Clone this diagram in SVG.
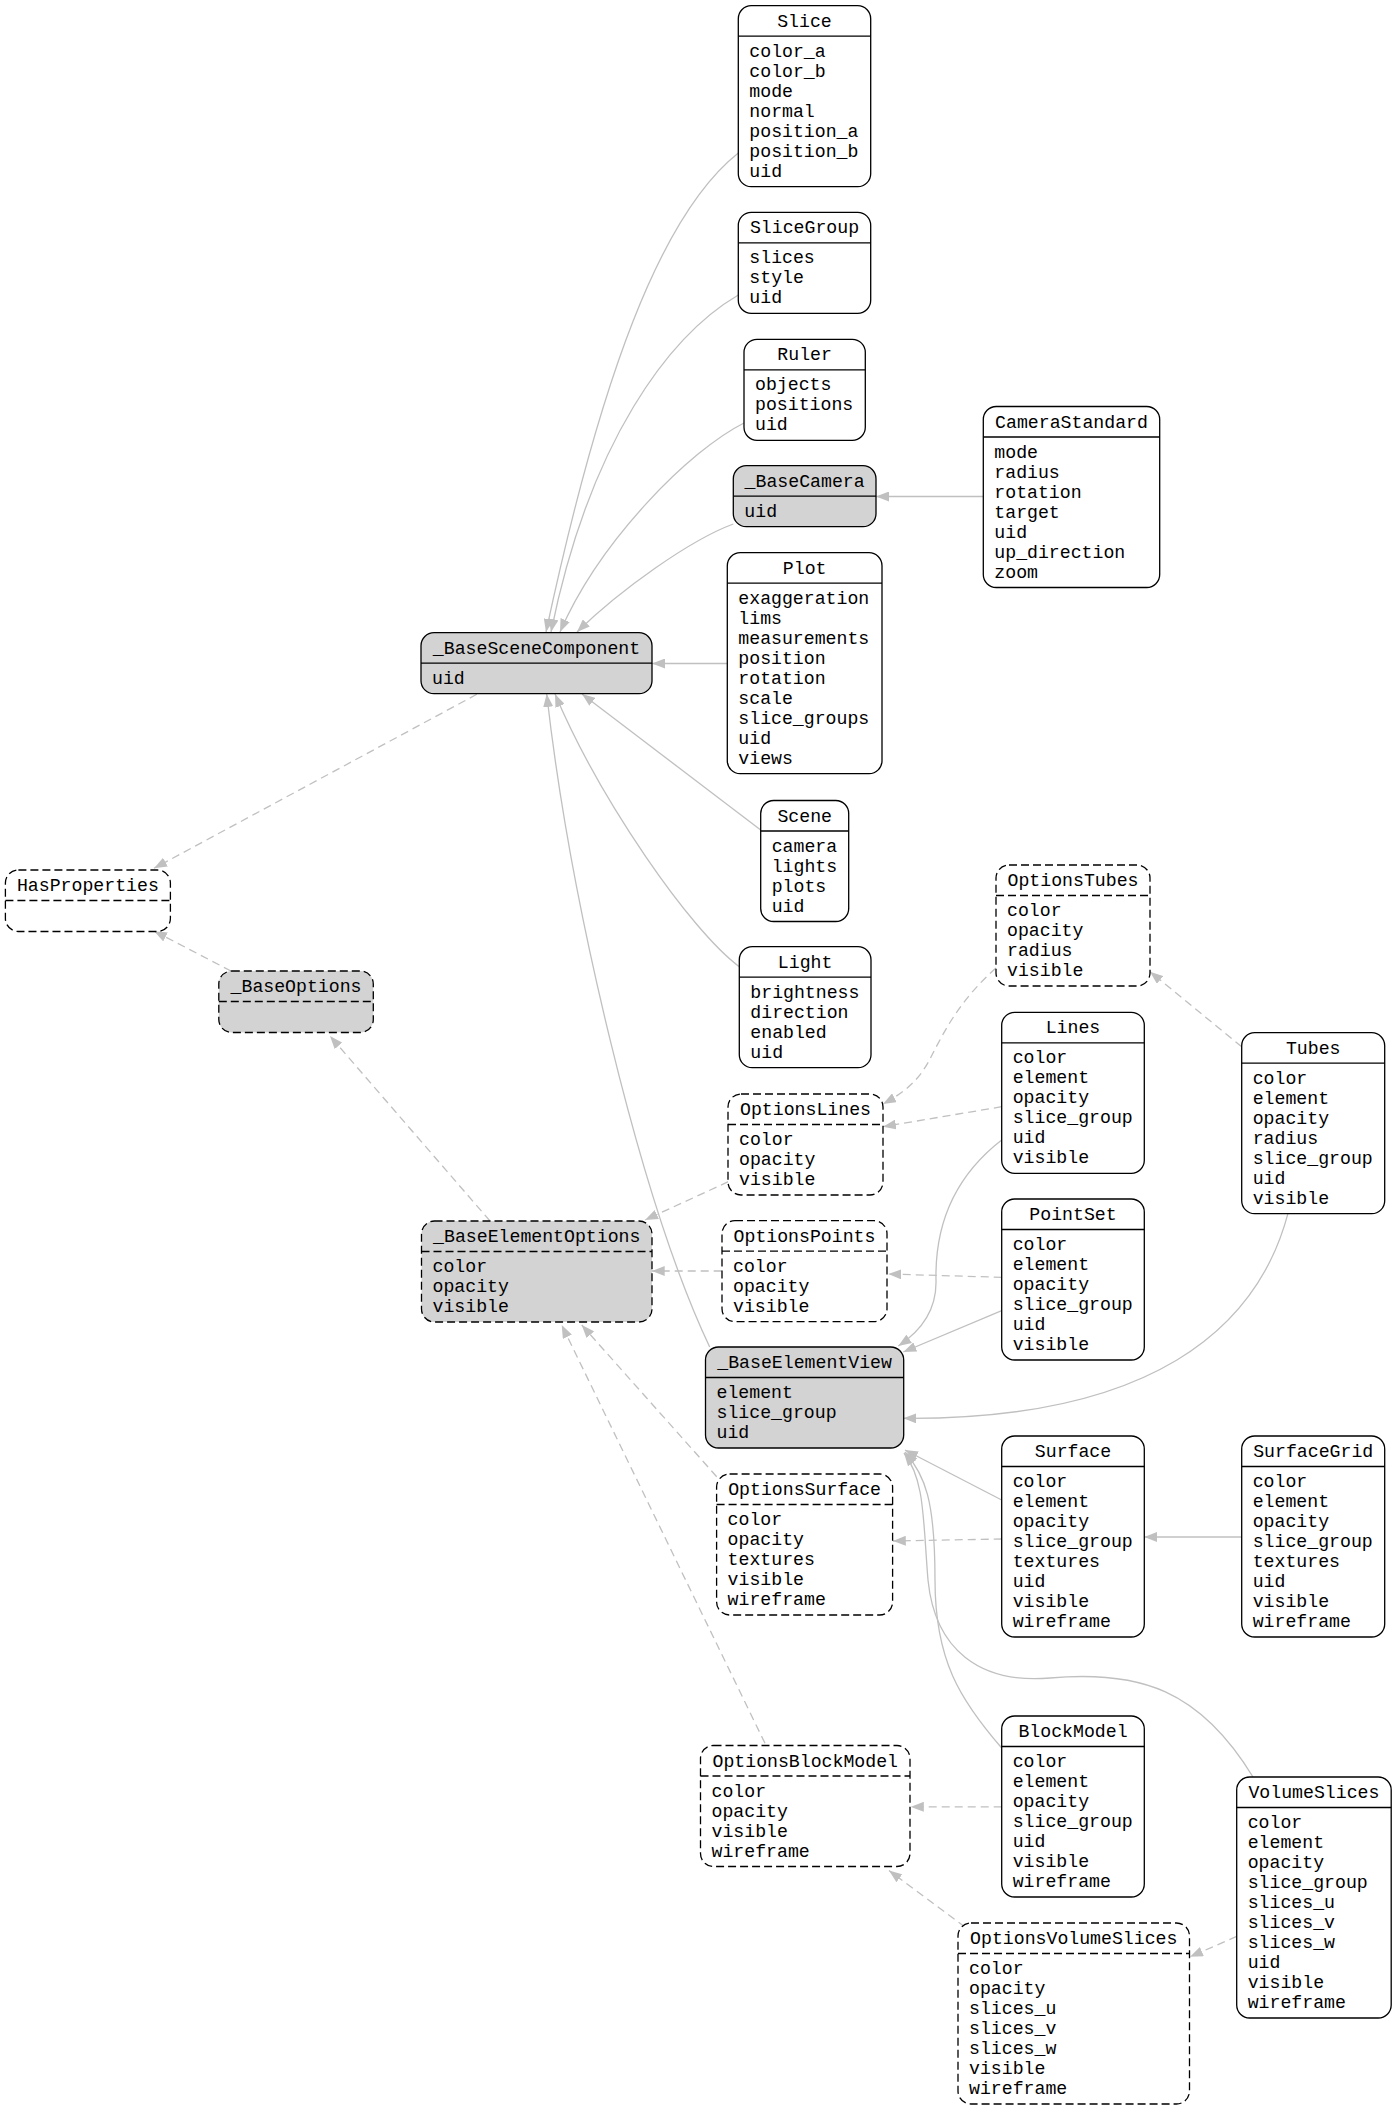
<svg xmlns="http://www.w3.org/2000/svg" width="1396" height="2108" viewBox="0 0 1396 2108">
<style>
.box{fill:#fff;stroke:#000;stroke-width:1.3}
.abs{fill:#d3d3d3}
.dash{stroke-dasharray:8,4}
.dv{stroke:#000;stroke-width:1.3}
text{font-family:"Liberation Mono","DejaVu Sans Mono",monospace;font-size:18.2px;fill:#000}
.t{text-anchor:middle}
.e{fill:none;stroke:#c0c0c0;stroke-width:1.3;marker-end:url(#arr)}
.ed{stroke-dasharray:8,5}
</style>
<defs>
<marker id="arr" viewBox="0 0 13 10" refX="13" refY="5" markerWidth="13" markerHeight="10" markerUnits="userSpaceOnUse" orient="auto">
<path d="M0,0 L13,5 L0,10 z" fill="#c0c0c0"/>
</marker>
</defs>
<rect width="1396" height="2108" fill="#fff"/>
<g id="edges">
<path class="e" d="M738.3,153 C660,215 600,380 546,632"/>
<path class="e" d="M738.3,295 C670,335 590,440 551,632"/>
<path class="e" d="M744,423 C690,450 600,540 560,632"/>
<path class="e" d="M733.3,524 C690,540 620,590 577,632"/>
<path class="e" d="M727.3,663.5 L652,663.5"/>
<path class="e" d="M983.3,496.5 L876,496.5"/>
<path class="e" d="M760.7,830 L582,694"/>
<path class="e" d="M739.3,966.7 C690,930 600,800 555,694"/>
<path class="e" d="M709.7,1347 C640,1200 570,900 546.7,694"/>
<path class="e" d="M1001.7,1140 C950,1180 935,1230 936,1280 C937,1315 915,1335 898.3,1346"/>
<path class="e" d="M1001.7,1310.7 L903.3,1352"/>
<path class="e" d="M1288,1213.3 C1257,1330 1150,1420 903.3,1418.3"/>
<path class="e" d="M1001.7,1500 L905,1450"/>
<path class="e" d="M1241.7,1537 L1144.3,1537"/>
<path class="e" d="M1001.7,1748 C960,1700 935,1660 935,1580 C935,1500 925,1475 905,1452"/>
<path class="e" d="M1253,1777 C1200,1690 1140,1670 1050,1678 C980,1684 935,1650 928,1580 C923,1520 925,1480 904,1453"/>
<path class="e ed" d="M476.8,694.3 L154,868.3"/>
<path class="e ed" d="M231,971 L154,931"/>
<path class="e ed" d="M490,1221 L330,1036"/>
<path class="e ed" d="M728.3,1181.7 L645,1220"/>
<path class="e ed" d="M721.7,1271 L651.7,1271"/>
<path class="e ed" d="M716.7,1476.7 L581.7,1325"/>
<path class="e ed" d="M765,1743.3 L561.7,1325"/>
<path class="e ed" d="M996,968 C960,1000 945,1030 932,1055 C920,1080 905,1092 883,1104"/>
<path class="e ed" d="M1001.7,1106.7 L883,1126.7"/>
<path class="e ed" d="M1241.7,1046.7 L1150,971.7"/>
<path class="e ed" d="M1001.7,1277.3 L888.3,1274"/>
<path class="e ed" d="M1001.7,1539 L892.8,1541"/>
<path class="e ed" d="M1001.7,1806.8 L910.8,1806.8"/>
<path class="e ed" d="M1236.7,1936.4 L1190,1956.8"/>
<path class="e ed" d="M965,1927 L889,1870.5"/>
</g>
<g id="Slice">
<rect class="box" x="738.3" y="5.7" width="132.4" height="181" rx="13"/>
<line class="dv" x1="738.3" y1="36.2" x2="870.7" y2="36.2"/>
<text class="t" x="804.5" y="26.7">Slice</text>
<text x="749.3" y="56.7"><tspan x="749.3">color_a</tspan><tspan x="749.3" dy="20">color_b</tspan><tspan x="749.3" dy="20">mode</tspan><tspan x="749.3" dy="20">normal</tspan><tspan x="749.3" dy="20">position_a</tspan><tspan x="749.3" dy="20">position_b</tspan><tspan x="749.3" dy="20">uid</tspan></text>
</g>
<g id="SliceGroup">
<rect class="box" x="738.3" y="212.3" width="132.4" height="101" rx="13"/>
<line class="dv" x1="738.3" y1="242.8" x2="870.7" y2="242.8"/>
<text class="t" x="804.5" y="233.3">SliceGroup</text>
<text x="749.3" y="263.3"><tspan x="749.3">slices</tspan><tspan x="749.3" dy="20">style</tspan><tspan x="749.3" dy="20">uid</tspan></text>
</g>
<g id="Ruler">
<rect class="box" x="744" y="339.3" width="121.3" height="101" rx="13"/>
<line class="dv" x1="744" y1="369.8" x2="865.3" y2="369.8"/>
<text class="t" x="804.65" y="360.3">Ruler</text>
<text x="755" y="390.3"><tspan x="755">objects</tspan><tspan x="755" dy="20">positions</tspan><tspan x="755" dy="20">uid</tspan></text>
</g>
<g id="_BaseCamera">
<rect class="box abs" x="733.3" y="465.7" width="142.7" height="61" rx="13"/>
<line class="dv" x1="733.3" y1="496.2" x2="876" y2="496.2"/>
<text class="t" x="804.65" y="486.7">_BaseCamera</text>
<text x="744.3" y="516.7">uid</text>
</g>
<g id="CameraStandard">
<rect class="box" x="983.3" y="406.5" width="176.4" height="181" rx="13"/>
<line class="dv" x1="983.3" y1="437" x2="1159.7" y2="437"/>
<text class="t" x="1071.5" y="427.5">CameraStandard</text>
<text x="994.3" y="457.5"><tspan x="994.3">mode</tspan><tspan x="994.3" dy="20">radius</tspan><tspan x="994.3" dy="20">rotation</tspan><tspan x="994.3" dy="20">target</tspan><tspan x="994.3" dy="20">uid</tspan><tspan x="994.3" dy="20">up_direction</tspan><tspan x="994.3" dy="20">zoom</tspan></text>
</g>
<g id="Plot">
<rect class="box" x="727.3" y="552.7" width="154.7" height="221" rx="13"/>
<line class="dv" x1="727.3" y1="583.2" x2="882" y2="583.2"/>
<text class="t" x="804.65" y="573.7">Plot</text>
<text x="738.3" y="603.7"><tspan x="738.3">exaggeration</tspan><tspan x="738.3" dy="20">lims</tspan><tspan x="738.3" dy="20">measurements</tspan><tspan x="738.3" dy="20">position</tspan><tspan x="738.3" dy="20">rotation</tspan><tspan x="738.3" dy="20">scale</tspan><tspan x="738.3" dy="20">slice_groups</tspan><tspan x="738.3" dy="20">uid</tspan><tspan x="738.3" dy="20">views</tspan></text>
</g>
<g id="_BaseSceneComponent">
<rect class="box abs" x="421" y="632.7" width="231" height="61" rx="13"/>
<line class="dv" x1="421" y1="663.2" x2="652" y2="663.2"/>
<text class="t" x="536.5" y="653.7">_BaseSceneComponent</text>
<text x="432" y="683.7">uid</text>
</g>
<g id="Scene">
<rect class="box" x="760.7" y="800.5" width="88" height="121" rx="13"/>
<line class="dv" x1="760.7" y1="831" x2="848.7" y2="831"/>
<text class="t" x="804.7" y="821.5">Scene</text>
<text x="771.7" y="851.5"><tspan x="771.7">camera</tspan><tspan x="771.7" dy="20">lights</tspan><tspan x="771.7" dy="20">plots</tspan><tspan x="771.7" dy="20">uid</tspan></text>
</g>
<g id="Light">
<rect class="box" x="739.3" y="946.7" width="131.7" height="121" rx="13"/>
<line class="dv" x1="739.3" y1="977.2" x2="871" y2="977.2"/>
<text class="t" x="805.15" y="967.7">Light</text>
<text x="750.3" y="997.7"><tspan x="750.3">brightness</tspan><tspan x="750.3" dy="20">direction</tspan><tspan x="750.3" dy="20">enabled</tspan><tspan x="750.3" dy="20">uid</tspan></text>
</g>
<g id="HasProperties">
<rect class="box dash" x="5.4" y="870" width="165" height="61.5" rx="13"/>
<line class="dv dash" x1="5.4" y1="900.5" x2="170.4" y2="900.5"/>
<text class="t" x="87.9" y="891">HasProperties</text>
</g>
<g id="_BaseOptions">
<rect class="box abs dash" x="218.8" y="971" width="154.5" height="61.5" rx="13"/>
<line class="dv dash" x1="218.8" y1="1001.5" x2="373.3" y2="1001.5"/>
<text class="t" x="296.05" y="992">_BaseOptions</text>
</g>
<g id="OptionsTubes">
<rect class="box dash" x="996" y="865" width="154" height="121" rx="13"/>
<line class="dv dash" x1="996" y1="895.5" x2="1150" y2="895.5"/>
<text class="t" x="1073" y="886">OptionsTubes</text>
<text x="1007" y="916"><tspan x="1007">color</tspan><tspan x="1007" dy="20">opacity</tspan><tspan x="1007" dy="20">radius</tspan><tspan x="1007" dy="20">visible</tspan></text>
</g>
<g id="Lines">
<rect class="box" x="1001.7" y="1012.3" width="142.6" height="161" rx="13"/>
<line class="dv" x1="1001.7" y1="1042.8" x2="1144.3" y2="1042.8"/>
<text class="t" x="1073" y="1033.3">Lines</text>
<text x="1012.7" y="1063.3"><tspan x="1012.7">color</tspan><tspan x="1012.7" dy="20">element</tspan><tspan x="1012.7" dy="20">opacity</tspan><tspan x="1012.7" dy="20">slice_group</tspan><tspan x="1012.7" dy="20">uid</tspan><tspan x="1012.7" dy="20">visible</tspan></text>
</g>
<g id="Tubes">
<rect class="box" x="1241.7" y="1032.7" width="143" height="181" rx="13"/>
<line class="dv" x1="1241.7" y1="1063.2" x2="1384.7" y2="1063.2"/>
<text class="t" x="1313.2" y="1053.7">Tubes</text>
<text x="1252.7" y="1083.7"><tspan x="1252.7">color</tspan><tspan x="1252.7" dy="20">element</tspan><tspan x="1252.7" dy="20">opacity</tspan><tspan x="1252.7" dy="20">radius</tspan><tspan x="1252.7" dy="20">slice_group</tspan><tspan x="1252.7" dy="20">uid</tspan><tspan x="1252.7" dy="20">visible</tspan></text>
</g>
<g id="OptionsLines">
<rect class="box dash" x="728" y="1094" width="155" height="101" rx="13"/>
<line class="dv dash" x1="728" y1="1124.5" x2="883" y2="1124.5"/>
<text class="t" x="805.5" y="1115">OptionsLines</text>
<text x="739" y="1145"><tspan x="739">color</tspan><tspan x="739" dy="20">opacity</tspan><tspan x="739" dy="20">visible</tspan></text>
</g>
<g id="OptionsPoints">
<rect class="box dash" x="722" y="1220.7" width="165" height="101" rx="13"/>
<line class="dv dash" x1="722" y1="1251.2" x2="887" y2="1251.2"/>
<text class="t" x="804.5" y="1241.7">OptionsPoints</text>
<text x="733" y="1271.7"><tspan x="733">color</tspan><tspan x="733" dy="20">opacity</tspan><tspan x="733" dy="20">visible</tspan></text>
</g>
<g id="PointSet">
<rect class="box" x="1001.7" y="1199" width="142.6" height="161" rx="13"/>
<line class="dv" x1="1001.7" y1="1229.5" x2="1144.3" y2="1229.5"/>
<text class="t" x="1073" y="1220">PointSet</text>
<text x="1012.7" y="1250"><tspan x="1012.7">color</tspan><tspan x="1012.7" dy="20">element</tspan><tspan x="1012.7" dy="20">opacity</tspan><tspan x="1012.7" dy="20">slice_group</tspan><tspan x="1012.7" dy="20">uid</tspan><tspan x="1012.7" dy="20">visible</tspan></text>
</g>
<g id="_BaseElementOptions">
<rect class="box abs dash" x="421.5" y="1221" width="230.5" height="101" rx="13"/>
<line class="dv dash" x1="421.5" y1="1251.5" x2="652" y2="1251.5"/>
<text class="t" x="536.75" y="1242">_BaseElementOptions</text>
<text x="432.5" y="1272"><tspan x="432.5">color</tspan><tspan x="432.5" dy="20">opacity</tspan><tspan x="432.5" dy="20">visible</tspan></text>
</g>
<g id="_BaseElementView">
<rect class="box abs" x="705.5" y="1347" width="198.2" height="101" rx="13"/>
<line class="dv" x1="705.5" y1="1377.5" x2="903.7" y2="1377.5"/>
<text class="t" x="804.6" y="1368">_BaseElementView</text>
<text x="716.5" y="1398"><tspan x="716.5">element</tspan><tspan x="716.5" dy="20">slice_group</tspan><tspan x="716.5" dy="20">uid</tspan></text>
</g>
<g id="Surface">
<rect class="box" x="1001.7" y="1436" width="142.6" height="201" rx="13"/>
<line class="dv" x1="1001.7" y1="1466.5" x2="1144.3" y2="1466.5"/>
<text class="t" x="1073" y="1457">Surface</text>
<text x="1012.7" y="1487"><tspan x="1012.7">color</tspan><tspan x="1012.7" dy="20">element</tspan><tspan x="1012.7" dy="20">opacity</tspan><tspan x="1012.7" dy="20">slice_group</tspan><tspan x="1012.7" dy="20">textures</tspan><tspan x="1012.7" dy="20">uid</tspan><tspan x="1012.7" dy="20">visible</tspan><tspan x="1012.7" dy="20">wireframe</tspan></text>
</g>
<g id="SurfaceGrid">
<rect class="box" x="1241.7" y="1436" width="143" height="201" rx="13"/>
<line class="dv" x1="1241.7" y1="1466.5" x2="1384.7" y2="1466.5"/>
<text class="t" x="1313.2" y="1457">SurfaceGrid</text>
<text x="1252.7" y="1487"><tspan x="1252.7">color</tspan><tspan x="1252.7" dy="20">element</tspan><tspan x="1252.7" dy="20">opacity</tspan><tspan x="1252.7" dy="20">slice_group</tspan><tspan x="1252.7" dy="20">textures</tspan><tspan x="1252.7" dy="20">uid</tspan><tspan x="1252.7" dy="20">visible</tspan><tspan x="1252.7" dy="20">wireframe</tspan></text>
</g>
<g id="OptionsSurface">
<rect class="box dash" x="716.6" y="1474" width="176" height="141" rx="13"/>
<line class="dv dash" x1="716.6" y1="1504.5" x2="892.6" y2="1504.5"/>
<text class="t" x="804.6" y="1495">OptionsSurface</text>
<text x="727.6" y="1525"><tspan x="727.6">color</tspan><tspan x="727.6" dy="20">opacity</tspan><tspan x="727.6" dy="20">textures</tspan><tspan x="727.6" dy="20">visible</tspan><tspan x="727.6" dy="20">wireframe</tspan></text>
</g>
<g id="BlockModel">
<rect class="box" x="1001.7" y="1716" width="142.6" height="181" rx="13"/>
<line class="dv" x1="1001.7" y1="1746.5" x2="1144.3" y2="1746.5"/>
<text class="t" x="1073" y="1737">BlockModel</text>
<text x="1012.7" y="1767"><tspan x="1012.7">color</tspan><tspan x="1012.7" dy="20">element</tspan><tspan x="1012.7" dy="20">opacity</tspan><tspan x="1012.7" dy="20">slice_group</tspan><tspan x="1012.7" dy="20">uid</tspan><tspan x="1012.7" dy="20">visible</tspan><tspan x="1012.7" dy="20">wireframe</tspan></text>
</g>
<g id="OptionsBlockModel">
<rect class="box dash" x="700.5" y="1745.5" width="209.5" height="121" rx="13"/>
<line class="dv dash" x1="700.5" y1="1776" x2="910" y2="1776"/>
<text class="t" x="805.25" y="1766.5">OptionsBlockModel</text>
<text x="711.5" y="1796.5"><tspan x="711.5">color</tspan><tspan x="711.5" dy="20">opacity</tspan><tspan x="711.5" dy="20">visible</tspan><tspan x="711.5" dy="20">wireframe</tspan></text>
</g>
<g id="VolumeSlices">
<rect class="box" x="1236.7" y="1777" width="154.5" height="241" rx="13"/>
<line class="dv" x1="1236.7" y1="1807.5" x2="1391.2" y2="1807.5"/>
<text class="t" x="1313.95" y="1798">VolumeSlices</text>
<text x="1247.7" y="1828"><tspan x="1247.7">color</tspan><tspan x="1247.7" dy="20">element</tspan><tspan x="1247.7" dy="20">opacity</tspan><tspan x="1247.7" dy="20">slice_group</tspan><tspan x="1247.7" dy="20">slices_u</tspan><tspan x="1247.7" dy="20">slices_v</tspan><tspan x="1247.7" dy="20">slices_w</tspan><tspan x="1247.7" dy="20">uid</tspan><tspan x="1247.7" dy="20">visible</tspan><tspan x="1247.7" dy="20">wireframe</tspan></text>
</g>
<g id="OptionsVolumeSlices">
<rect class="box dash" x="958" y="1923" width="231.5" height="181" rx="13"/>
<line class="dv dash" x1="958" y1="1953.5" x2="1189.5" y2="1953.5"/>
<text class="t" x="1073.75" y="1944">OptionsVolumeSlices</text>
<text x="969" y="1974"><tspan x="969">color</tspan><tspan x="969" dy="20">opacity</tspan><tspan x="969" dy="20">slices_u</tspan><tspan x="969" dy="20">slices_v</tspan><tspan x="969" dy="20">slices_w</tspan><tspan x="969" dy="20">visible</tspan><tspan x="969" dy="20">wireframe</tspan></text>
</g>
</svg>
